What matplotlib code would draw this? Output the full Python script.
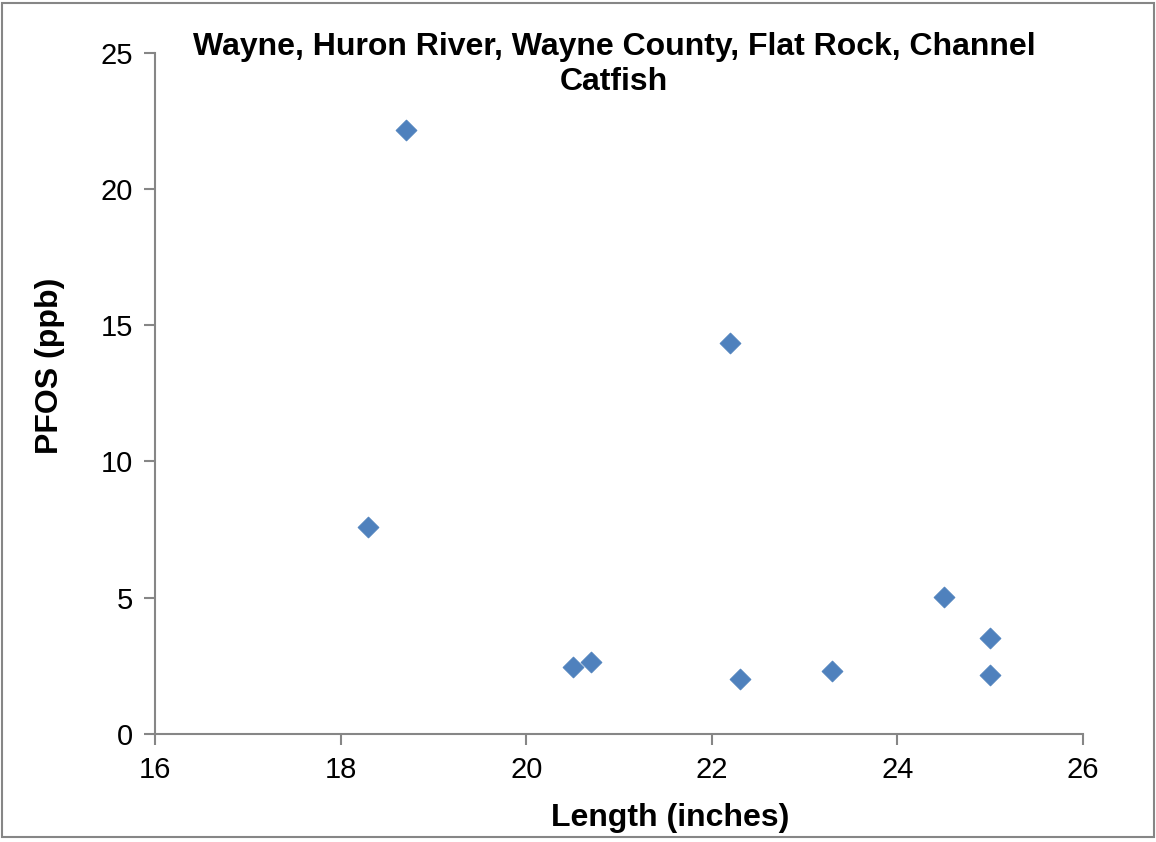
import matplotlib.pyplot as plt
from matplotlib.patches import Rectangle

plt.rcParams['font.family'] = ['Liberation Sans', 'DejaVu Sans']

length = [18.7, 18.3, 22.2, 20.5, 20.7, 22.3, 23.3, 24.5, 25.0, 25.0]
pfos = [22.15, 7.6, 14.33, 2.46, 2.64, 2.02, 2.31, 5.02, 3.52, 2.16]

x_ticks = [16, 18, 20, 22, 24, 26]
y_ticks = [0, 5, 10, 15, 20, 25]

fig = plt.figure(figsize=(11.56, 8.42), dpi=100)
ax = fig.add_axes([0.1341, 0.1286, 0.8027, 0.8088])

ax.scatter(length, pfos, marker='D', s=115, color='#4F81BD', edgecolors='#4A7EBB',
           linewidths=0.5, zorder=3)

ax.set_xlim(16, 26)
ax.set_ylim(0, 25)
ax.set_xticks(x_ticks)
ax.set_yticks(y_ticks)

grey = '#868686'
for side in ['top', 'right']:
    ax.spines[side].set_visible(False)
for side in ['left', 'bottom']:
    ax.spines[side].set_color(grey)
    ax.spines[side].set_linewidth(1.5)
ax.tick_params(axis='both', direction='out', length=8, width=1.5, color=grey,
               labelsize=21, labelcolor='black', pad=8)

fig.text(0.531, 0.962, 'Wayne, Huron River, Wayne County, Flat Rock, Channel\nCatfish',
         ha='center', va='top', fontsize=23, fontweight='bold', linespacing=1.22)
fig.text(0.580, 0.028, 'Length (inches)', ha='center', va='center',
         fontsize=23, fontweight='bold')
fig.text(0.043, 0.566, 'PFOS (ppb)', ha='center', va='center', rotation=90,
         fontsize=23, fontweight='bold')

fig.patches.append(Rectangle((0.002, 0.006), 0.996, 0.99, transform=fig.transFigure,
                             fill=False, edgecolor=grey, linewidth=1.5))

plt.savefig('out.png', dpi=100)
plt.close()
